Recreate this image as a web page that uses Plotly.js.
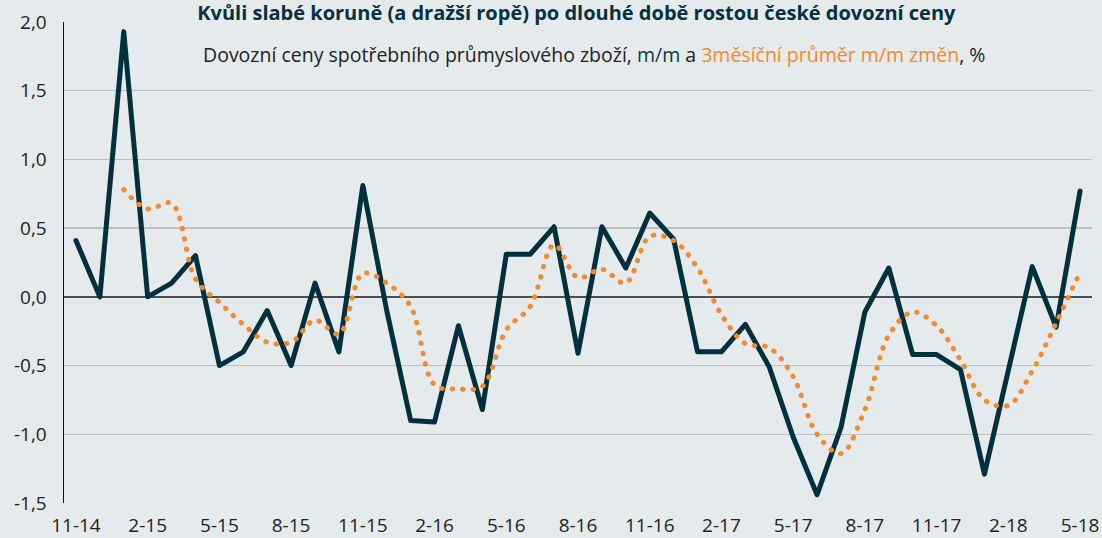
<!DOCTYPE html>
<html>
<head>
<meta charset="utf-8">
<script src="https://cdn.plot.ly/plotly-3.0.1.min.js"></script>
<style>
html,body{margin:0;padding:0;background:#e5eaed;}
#chart{width:1102px;height:538px;}
.js-line{stroke-linecap:round !important;stroke-linejoin:round !important;}
</style>
</head>
<body>
<div id="chart"></div>
<script>
// Categories (month-year)
const months = ["11-14","12-14","1-15","2-15","3-15","4-15","5-15","6-15","7-15","8-15","9-15","10-15",
  "11-15","12-15","1-16","2-16","3-16","4-16","5-16","6-16","7-16","8-16","9-16","10-16",
  "11-16","12-16","1-17","2-17","3-17","4-17","5-17","6-17","7-17","8-17","9-17","10-17",
  "11-17","12-17","1-18","2-18","3-18","4-18","5-18"];

// Import prices of consumer industrial goods, m/m %
const mmChange = [0.41,0.00,1.93,0.00,0.10,0.30,-0.50,-0.40,-0.10,-0.50,0.10,-0.40,
  0.81,-0.10,-0.90,-0.91,-0.21,-0.82,0.31,0.31,0.51,-0.41,0.51,0.21,
  0.61,0.42,-0.40,-0.40,-0.20,-0.51,-1.02,-1.44,-0.95,-0.11,0.21,-0.42,
  -0.42,-0.53,-1.29,-0.54,0.22,-0.22,0.77];

// 3-month average of m/m changes, %
const avg3m = [null,null,0.78,0.64,0.68,0.13,-0.04,-0.20,-0.33,-0.33,-0.17,-0.27,
  0.17,0.10,-0.07,-0.64,-0.67,-0.65,-0.24,-0.07,0.38,0.14,0.20,0.10,
  0.44,0.41,0.21,-0.13,-0.34,-0.37,-0.58,-1.00,-1.14,-0.82,-0.28,-0.11,
  -0.21,-0.46,-0.75,-0.79,-0.54,-0.19,0.18];

// Axis tick labels
const xTickVals = ["11-14","2-15","5-15","8-15","11-15","2-16","5-16","8-16","11-16","2-17","5-17","8-17","11-17","2-18","5-18"];
const yTickVals = [-1.5,-1.0,-0.5,0,0.5,1.0,1.5,2.0];
const yTickText = ["-1,5","-1,0","-0,5","0,0","0,5","1,0","1,5","2,0"];

const titleText = "Kvůli slabé koruně (a dražší ropě) po dlouhé době rostou české dovozní ceny";
const legendText = 'Dovozní ceny spotřebního průmyslového zboží, <span style="color:#0d3a47">m/m</span> a <span style="color:#f28a30">3měsíční průměr m/m změn</span>, %';

const DARK = "#03303c";
const ORANGE = "#f28a30";
const FONT = "Open Sans, Noto Sans, sans-serif";

const traces = [
  {x: months, y: mmChange, type: "scatter", mode: "lines",
   line: {color: DARK, width: 5}, hoverinfo: "skip"},
  {x: months, y: avg3m, type: "scatter", mode: "lines",
   line: {color: ORANGE, width: 5, dash: "0.5px,10px", shape: "spline"}, hoverinfo: "skip"}
];

const layout = {
  width: 1102, height: 538,
  paper_bgcolor: "#e5eaed", plot_bgcolor: "#e5eaed",
  margin: {l: 64, r: 10, t: 22, b: 35},
  showlegend: false,
  font: {family: FONT, color: "#222", size: 19},
  title: {text: "<b>" + titleText + "</b>", font: {family: FONT, size: 20, color: "#06313d"},
          x: 0.523, xanchor: "center", xref: "container", yref: "container", y: 0.988, yanchor: "top",
          pad: {t: 0, b: 0}},
  xaxis: {type: "category", range: [-0.5, 42.5], tickmode: "array", tickvals: xTickVals, ticktext: xTickVals,
          showgrid: false, zeroline: false, showline: false, ticks: "", ticklabelstandoff: 9,
          tickfont: {size: 19, color: "#222"}, fixedrange: true},
  yaxis: {range: [-1.5, 2.0], tickmode: "array", tickvals: yTickVals, ticktext: yTickText,
          showgrid: true, gridcolor: "#bcc1c4", gridwidth: 1.5,
          zeroline: true, zerolinecolor: "#4a4f52", zerolinewidth: 2,
          showline: true, linecolor: "#111", linewidth: 1.5,
          ticks: "", ticklabelstandoff: 12, tickfont: {size: 19, color: "#222"}, fixedrange: true},
  annotations: [{text: legendText, xref: "paper", yref: "paper", x: 0.5156, y: 0.932,
                 xanchor: "center", yanchor: "middle", showarrow: false,
                 font: {family: FONT, size: 19.5, color: "#222"}}]
};

Plotly.newPlot("chart", traces, layout, {staticPlot: true, displayModeBar: false});
</script>
</body>
</html>
